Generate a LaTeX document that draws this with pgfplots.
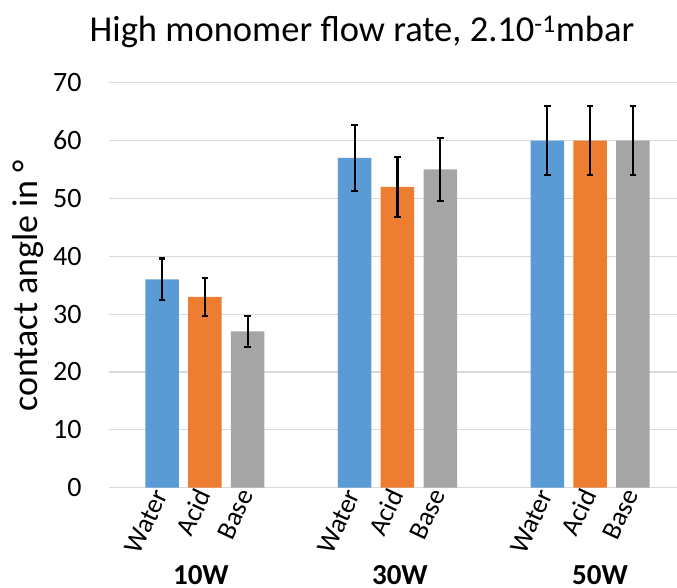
\documentclass[border=0pt]{standalone}
\usepackage{fontspec}
\setmainfont{Carlito}
\usepackage{pgfplots}
\pgfplotsset{compat=1.18}
\definecolor{cblue}{HTML}{5B9BD5}
\definecolor{corange}{HTML}{ED7D31}
\definecolor{cgray}{HTML}{A5A5A5}
\definecolor{gridc}{HTML}{D9D9D9}
\begin{document}
\begin{tikzpicture}
\useasboundingbox (-109pt,-99.3pt) rectangle (568pt,487.7pt);
\begin{axis}[
  scale only axis, width=568pt, height=405pt,
  xmin=-1.24, xmax=12.03, ymin=0, ymax=70,
  axis line style={draw=none},
  major tick length=0pt,
  ymajorgrids, grid style={gridc, line width=1.2pt},
  ytick={0,10,...,70},
  xtick={0,1,2,4.5,5.5,6.5,9,10,11},
  xticklabels={Water,Acid,Base,Water,Acid,Base,Water,Acid,Base},
  xticklabel style={rotate=65, anchor=east, font=\fontsize{27}{32}\selectfont},
  yticklabel style={font=\fontsize{28}{33}\selectfont, xshift=-24pt},
  /pgf/number format/assume math mode=true,
  ybar, bar width=33.5pt, bar shift=0pt,
  error bars/y dir=both, error bars/y explicit,
  error bars/error bar style={black, line width=2.2pt},
  error bars/error mark options={rotate=90, mark size=3.2pt, line width=2.2pt, black},
  clip=false,
]
\addplot[fill=cblue, draw=none] coordinates {(0,36) +- (0,3.6) (4.5,57) +- (0,5.7) (9,60) +- (0,6)};
\addplot[fill=corange, draw=none] coordinates {(1,33) +- (0,3.3) (5.5,52) +- (0,5.2) (10,60) +- (0,6)};
\addplot[fill=cgray, draw=none] coordinates {(2,27) +- (0,2.7) (6.5,55) +- (0,5.5) (11,60) +- (0,6)};
\node[anchor=base, inner sep=0pt, yshift=-96.8pt, font=\fontsize{29}{34}\selectfont\bfseries] at (axis cs:0.907,0) {10W};
\node[anchor=base, inner sep=0pt, yshift=-96.8pt, font=\fontsize{29}{34}\selectfont\bfseries] at (axis cs:5.556,0) {30W};
\node[anchor=base, inner sep=0pt, yshift=-96.8pt, font=\fontsize{29}{34}\selectfont\bfseries] at (axis cs:10.23,0) {50W};
\end{axis}
\node[anchor=base, font=\fontsize{36.5}{42}\selectfont] at (253pt,446.2pt) {High monomer flow rate, 2.10\textsuperscript{-1}mbar};
\node[rotate=90, font=\fontsize{36}{42}\selectfont] at (-81pt,202pt) {contact angle in °};
\end{tikzpicture}
\end{document}
